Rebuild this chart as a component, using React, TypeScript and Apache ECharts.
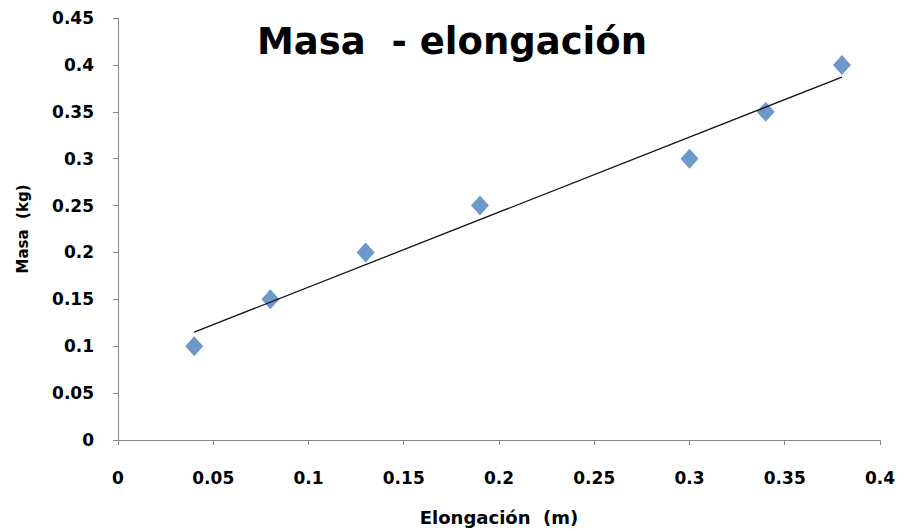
import React, { useEffect, useRef } from "react";
import * as echarts from "echarts";

const elongation = [0.04, 0.08, 0.13, 0.19, 0.3, 0.34, 0.38];
const mass = [0.1, 0.15, 0.2, 0.25, 0.3, 0.35, 0.4];
const trendX = [0.04, 0.38];
const trendY = [0.115, 0.387];
const titleText = "Masa  - elongación";
const xName = "Elongación  (m)";
const yName = "Masa  (kg)";

export default function App() {
  const ref = useRef<HTMLDivElement>(null);
  useEffect(() => {
    document.body.style.margin = "0";
    const chart = echarts.init(ref.current!, null, { renderer: "svg" });
    const font = "'DejaVu Sans', sans-serif";
    chart.setOption({
      animation: false,
      backgroundColor: "#ffffff",
      title: {
        text: titleText,
        left: 447,
        top: 18,
        textAlign: "center",
        textStyle: { fontFamily: font, fontWeight: "bold", fontSize: 37, color: "#000" },
      },
      grid: { left: 118, right: 28, top: 18, bottom: 91 },
      xAxis: {
        type: "value",
        min: 0,
        max: 0.4,
        interval: 0.05,
        name: xName,
        nameLocation: "middle",
        nameGap: 68,
        nameTextStyle: { fontFamily: font, fontWeight: "bold", fontSize: 18, color: "#000" },
        axisLine: { show: true, lineStyle: { color: "#898989", width: 1 } },
        axisTick: { show: true, length: 5, lineStyle: { color: "#898989" } },
        splitLine: { show: false },
        axisLabel: {
          margin: 29,
          fontFamily: font,
          fontWeight: "bold",
          fontSize: 17,
          color: "#000",
          formatter: (v: number) => String(Math.round(v * 100) / 100),
        },
      },
      yAxis: {
        type: "value",
        min: 0,
        max: 0.45,
        interval: 0.05,
        name: yName,
        nameLocation: "middle",
        nameGap: 88,
        nameRotate: 90,
        nameTextStyle: { fontFamily: font, fontWeight: "bold", fontSize: 15, color: "#000" },
        axisLine: { show: true, lineStyle: { color: "#898989", width: 1 } },
        axisTick: { show: true, length: 5, lineStyle: { color: "#898989" } },
        splitLine: { show: false },
        axisLabel: {
          margin: 24,
          fontFamily: font,
          fontWeight: "bold",
          fontSize: 17,
          color: "#000",
          formatter: (v: number) => String(Math.round(v * 100) / 100),
        },
      },
      series: [
        {
          type: "line",
          data: trendX.map((x, i) => [x, trendY[i]]),
          showSymbol: false,
          symbol: "none",
          lineStyle: { color: "#111", width: 1.3 },
          z: 3,
        },
        {
          type: "scatter",
          data: elongation.map((x, i) => [x, mass[i]]),
          symbol: "diamond",
          symbolSize: [18, 20],
          itemStyle: { color: "#4A7EBB" },
          z: 2,
        },
      ],
    });
    return () => chart.dispose();
  }, []);
  return <div ref={ref} style={{ width: 908, height: 531 }} />;
}
